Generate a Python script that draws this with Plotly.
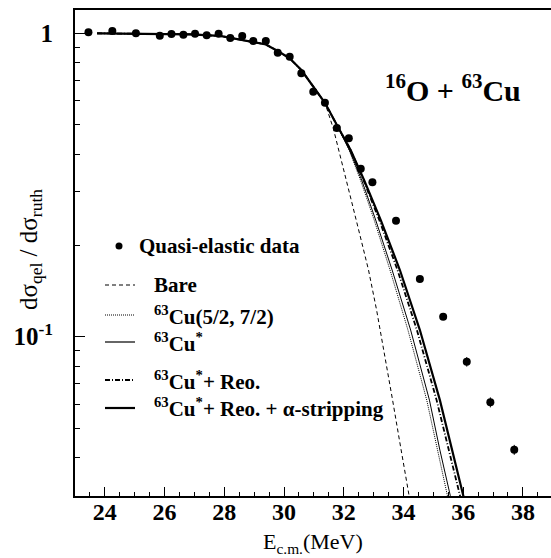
import plotly.graph_objects as go

# ---------------- data ----------------
E_data = [23.45, 24.25, 25.04, 25.84, 26.23, 26.63, 27.02, 27.41, 27.81, 28.20,
          28.60, 28.97, 29.39, 29.79, 30.19, 30.58, 30.98, 31.37, 31.77, 32.17,
          32.57, 32.96, 33.75, 34.55, 35.33, 36.12, 36.91, 37.71]
sig_data = [1.008, 1.018, 1.000, 0.982, 0.995, 0.989, 0.997, 0.985, 0.997, 0.965,
            0.980, 0.943, 0.943, 0.863, 0.837, 0.738, 0.642, 0.590, 0.487, 0.451,
            0.358, 0.323, 0.241, 0.155, 0.1164, 0.0827, 0.0608, 0.0424]
err_data = [0, 0, 0, 0, 0, 0, 0, 0, 0, 0,
            0, 0, 0, 0, 0, 0, 0, 0, 0, 0,
            0, 0, 0, 0, 0, 0.0030, 0.0023, 0.0016]

E_bare = [23.74, 25.51, 26.85, 27.86, 28.86, 29.39, 29.79, 30.19, 30.58, 30.98, 31.37,
          31.65, 31.94, 32.25, 32.55, 32.83, 33.10, 33.37, 33.63, 33.91, 34.19, 34.30]
sig_bare = [1.000, 0.998, 0.992, 0.980, 0.943, 0.919, 0.874, 0.827, 0.757, 0.667, 0.590,
            0.486, 0.3765, 0.2823, 0.2147, 0.1659, 0.1225, 0.0877, 0.0623, 0.0430, 0.0299, 0.0259]

E_spin = [23.74, 25.51, 26.85, 27.86, 28.86, 29.39, 29.79, 30.19, 30.58, 30.98, 31.37,
          31.77, 32.18, 32.56, 33.02, 33.55, 34.15, 34.78, 35.14, 35.48, 35.61]
sig_spin = [1.000, 0.998, 0.992, 0.980, 0.943, 0.919, 0.874, 0.827, 0.757, 0.667, 0.590,
            0.4985, 0.4124, 0.3284, 0.2424, 0.1659, 0.1052, 0.0618, 0.0423, 0.0299, 0.0259]

E_cu = [23.74, 25.51, 26.85, 27.86, 28.86, 29.39, 29.79, 30.19, 30.58, 30.98, 31.37,
        31.77, 32.19, 32.60, 33.07, 33.62, 34.24, 34.87, 35.22, 35.57, 35.69]
sig_cu = [1.000, 0.998, 0.992, 0.980, 0.943, 0.919, 0.874, 0.827, 0.757, 0.667, 0.590,
          0.4985, 0.4124, 0.3284, 0.2424, 0.1659, 0.1052, 0.0618, 0.0423, 0.0299, 0.0259]

E_reo = [23.74, 25.51, 26.85, 27.86, 28.86, 29.39, 29.79, 30.19, 30.58, 30.98, 31.37,
         31.77, 32.23, 32.66, 33.19, 33.80, 34.45, 35.11, 35.53, 35.92, 36.05]
sig_reo = [1.000, 0.998, 0.992, 0.980, 0.943, 0.919, 0.874, 0.827, 0.757, 0.667, 0.590,
           0.4985, 0.4124, 0.3284, 0.2424, 0.1659, 0.1052, 0.0618, 0.0423, 0.0299, 0.0259]

E_alpha = [23.74, 25.51, 26.85, 27.86, 28.86, 29.39, 29.79, 30.19, 30.58, 30.98, 31.37,
           31.77, 32.23, 32.68, 33.24, 33.88, 34.55, 35.22, 35.64, 36.03, 36.16]
sig_alpha = [1.000, 0.998, 0.992, 0.980, 0.943, 0.919, 0.874, 0.827, 0.757, 0.667, 0.590,
             0.4985, 0.4124, 0.3284, 0.2424, 0.1659, 0.1052, 0.0618, 0.0423, 0.0299, 0.0259]

x_major = [24, 26, 28, 30, 32, 34, 36, 38]
y_major = [0.1, 1]
y_major_text = ["10<sup>-1</sup>", "1"]
y_minor = [0.03, 0.04, 0.05, 0.06, 0.07, 0.08, 0.09,
           0.2, 0.3, 0.4, 0.5, 0.6, 0.7, 0.8, 0.9]

legend_labels = ["Quasi-elastic data", "Bare", "<sup>63</sup>Cu(5/2, 7/2)",
                 "<sup>63</sup>Cu<sup>*</sup>", "<sup>63</sup>Cu<sup>*</sup>+ Reo.",
                 "<sup>63</sup>Cu<sup>*</sup>+ Reo. + α-stripping"]

SERIF = "Times New Roman, Liberation Serif, Tinos, serif"
BLACK = "black"

# ---------------- figure ----------------
fig = go.Figure()

styles = [
    (E_bare, sig_bare, dict(color=BLACK, width=1, dash="4px,3px")),
    (E_spin, sig_spin, dict(color=BLACK, width=1, dash="1px,1px")),
    (E_cu, sig_cu, dict(color=BLACK, width=1)),
    (E_reo, sig_reo, dict(color=BLACK, width=1.8, dash="5px,2px,1px,2px")),
    (E_alpha, sig_alpha, dict(color=BLACK, width=2.2)),
]
for ex, sy, ln in styles:
    fig.add_trace(go.Scatter(x=ex, y=sy, mode="lines", line=ln, showlegend=False,
                             hoverinfo="skip"))

fig.add_trace(go.Scatter(
    x=E_data, y=sig_data, mode="markers",
    marker=dict(color=BLACK, size=8, symbol="circle"),
    error_y=dict(type="data", array=err_data, visible=True, color=BLACK,
                 thickness=1, width=0),
    showlegend=False, cliponaxis=False))

# ---------------- axes ----------------
L, R, T, B = 75, 0, 10, 62
W, H = 551, 558
pw, ph = W - L - R, H - T - B


def px_x(px):
    return (px - L) / pw


def px_y(py):
    return (H - B - py) / ph


fig.update_xaxes(
    range=[23, 23 + pw / 29.86],
    tickmode="array", tickvals=x_major,
    ticks="inside", ticklen=9, tickwidth=1, tickcolor=BLACK,
    minor=dict(ticks="inside", ticklen=4, tickwidth=1, tickcolor=BLACK,
               dtick=0.5, tick0=0, showgrid=False),
    showline=True, linewidth=2, linecolor=BLACK, mirror=True,
    showgrid=False, zeroline=False,
    tickfont=dict(family=SERIF, size=24, color=BLACK, weight="bold"),
    ticklabelstandoff=-7,
)
fig.update_yaxes(
    type="log", range=[-1.525, 0.0768],
    tickmode="array", tickvals=y_major, ticktext=y_major_text,
    ticks="inside", ticklen=10, tickwidth=1, tickcolor=BLACK,
    minor=dict(ticks="inside", ticklen=5, tickwidth=1, tickcolor=BLACK,
               tickmode="array", tickvals=y_minor, showgrid=False),
    showline=True, linewidth=2, linecolor=BLACK, mirror=False,
    showgrid=False, zeroline=False,
    tickfont=dict(family=SERIF, size=25, color=BLACK, weight="bold"),
    ticklabelstandoff=15,
)

# ---------------- annotations / legend ----------------
ann = []
shapes = []

# title
ann.append(dict(xref="paper", yref="paper", x=px_x(453), y=px_y(88),
                text="<sup>16</sup>O + <sup>63</sup>Cu", showarrow=False,
                xanchor="center", yanchor="middle",
                font=dict(family=SERIF, size=30, color=BLACK, weight="bold")))

# axis titles
ann.append(dict(xref="paper", yref="paper", x=px_x(313), y=px_y(543),
                text="E<sub>c.m.</sub>(MeV)", showarrow=False,
                xanchor="center", yanchor="middle",
                font=dict(family=SERIF, size=22, color=BLACK)))
ann.append(dict(xref="paper", yref="paper", x=px_x(30), y=px_y(250),
                text="dσ<sub>qel</sub> / dσ<sub>ruth</sub>", showarrow=False,
                textangle=-90, xanchor="center", yanchor="middle",
                font=dict(family=SERIF, size=25, color=BLACK)))

# legend
leg_y = [246, 285, 315, 342, 380, 408]
leg_dash = [None, "4px,3px", "1px,1px", "solid", "5px,2px,1px,2px", "solid"]
leg_w = [0, 1, 1, 1.2, 1.8, 2.2]
for i, lab in enumerate(legend_labels):
    yy = leg_y[i]
    tx = 137 if i == 0 else 152
    ann.append(dict(xref="paper", yref="paper", x=px_x(tx), y=px_y(yy),
                    text=lab, showarrow=False, xanchor="left", yanchor="middle",
                    font=dict(family=SERIF, size=21, color=BLACK, weight="bold")))
    if i == 0:
        shapes.append(dict(type="circle", xref="paper", yref="paper",
                           x0=px_x(115.5), x1=px_x(122.5),
                           y0=px_y(yy + 3.5), y1=px_y(yy - 3.5),
                           fillcolor=BLACK, line=dict(width=0)))
    else:
        shapes.append(dict(type="line", xref="paper", yref="paper",
                           x0=px_x(105), x1=px_x(135), y0=px_y(yy), y1=px_y(yy),
                           line=dict(color=BLACK, width=leg_w[i], dash=leg_dash[i])))

fig.update_layout(
    width=W, height=H,
    margin=dict(l=L, r=R, t=T, b=B, pad=0),
    paper_bgcolor="white", plot_bgcolor="white",
    annotations=ann, shapes=shapes,
    showlegend=False,
)

fig.write_html("out.html")
